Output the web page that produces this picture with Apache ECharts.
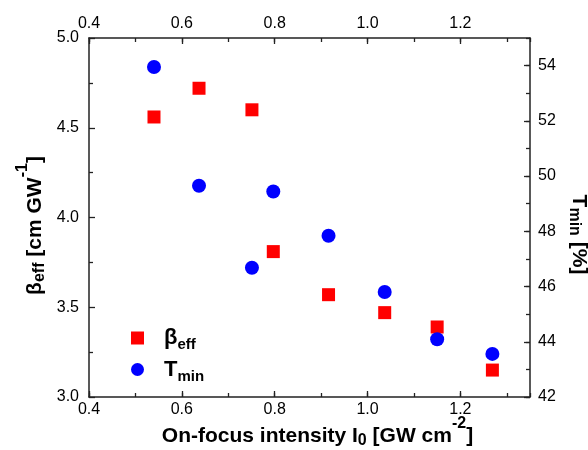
<!DOCTYPE html>
<html>
<head>
<meta charset="utf-8">
<script src="https://cdn.jsdelivr.net/npm/echarts@6/dist/echarts.min.js"></script>
<style>
  html, body { margin: 0; padding: 0; background: #fff; }
  #chart { width: 588px; height: 450px; }
</style>
</head>
<body>
<div id="chart"></div>
<script>
// on-focus intensity, GW cm^-2 (shared by both series)
var intensity = [0.540, 0.637, 0.751, 0.797, 0.916, 1.037, 1.150, 1.269];
// beta_eff, cm GW^-1 (left axis)
var betaEff = [4.56, 4.72, 4.60, 3.81, 3.57, 3.47, 3.39, 3.15];
// T_min, % (right axis)
var tMin = [53.95, 49.65, 46.68, 49.44, 47.84, 45.80, 44.09, 43.56];

var X_MIN = 0.4, X_MAX = 1.35, X_STEP = 0.2, X_MINOR = 0.1;
var B_MIN = 3.0, B_MAX = 5.0, B_STEP = 0.5;
var T_MIN = 42, T_MAX = 55, T_STEP = 2, T_MINOR = 1;

var FONT = "'Liberation Sans', Arial, sans-serif";
var AXIS_COLOR = '#222';

function pairs(xs, ys) {
  return xs.map(function(x, i) { return [x, ys[i]]; });
}

// rich styles for axis titles: b = body, s = subscript, p = superscript,
// a / e = body with extra lead / tail room to nudge the title off centre
function nameRich(lead, tail) {
  var body = { fontSize: 21, fontWeight: 'bold', color: '#000', fontFamily: FONT };
  return {
    b: body,
    a: Object.assign({}, body, { padding: [0, 0, 0, lead] }),
    e: Object.assign({}, body, { padding: [0, tail, 0, 0] }),
    s: { fontSize: 16, fontWeight: 'bold', color: '#000', fontFamily: FONT, padding: [10, 0, 0, 0] },
    p: { fontSize: 16, fontWeight: 'bold', color: '#000', fontFamily: FONT, padding: [0, 0, 24, 0] }
  };
}

// main axis (labelled ticks)
function mainAxis(extra) {
  var base = {
    type: 'value',
    splitLine: { show: false },
    axisLine: { show: true, onZero: false, lineStyle: { color: AXIS_COLOR, width: 1.5 } },
    axisTick: { show: true, inside: true, length: 6, lineStyle: { color: AXIS_COLOR, width: 1.3 } },
    axisLabel: { fontSize: 16, color: '#000', fontFamily: FONT, showMaxLabel: false },
    nameMoveOverlap: false
  };
  return Object.assign(base, extra);
}

// overlay axis that only draws the short minor ticks
function minorAxis(extra) {
  var base = {
    type: 'value',
    splitLine: { show: false },
    axisLine: { show: false },
    axisTick: { show: true, inside: true, length: 4, lineStyle: { color: AXIS_COLOR, width: 1.3 } },
    axisLabel: { show: false }
  };
  return Object.assign(base, extra);
}

var chart = echarts.init(document.getElementById('chart'));

chart.setOption({
  animation: false,
  backgroundColor: '#fff',
  grid: { left: 89, right: 58, top: 38, bottom: 53, outerBoundsMode: 'none', containLabel: false },
  legend: {
    orient: 'vertical',
    left: 126,
    top: 322,
    itemWidth: 13,
    itemHeight: 13,
    itemGap: 6,
    data: ['βeff', 'Tmin'],
    formatter: function(name) {
      return name === 'βeff' ? '{b|β}{s|eff}' : '{b|T}{s|min}';
    },
    textStyle: {
      rich: {
        b: { fontSize: 22, fontWeight: 'bold', color: '#000', fontFamily: FONT, padding: [0, 0, 0, 15] },
        s: { fontSize: 15, fontWeight: 'bold', color: '#000', fontFamily: FONT, padding: [14, 0, 0, 0] }
      }
    }
  },
  xAxis: [
    mainAxis({
      position: 'bottom', min: X_MIN, max: X_MAX, interval: X_STEP,
      axisLabel: { fontSize: 16, color: '#000', fontFamily: FONT, margin: 5, showMaxLabel: false,
        formatter: function(v) { return v.toFixed(1); } },
      name: '{a|On-focus intensity I}{s|0}{b| [GW cm}{p|-2}{b|]}',
      nameLocation: 'middle',
      nameGap: 19,
      nameTextStyle: { rich: nameRich(16, 0) }
    }),
    mainAxis({
      position: 'top', min: X_MIN, max: X_MAX, interval: X_STEP,
      axisLabel: { fontSize: 16, color: '#000', fontFamily: FONT, margin: 6, showMaxLabel: false,
        formatter: function(v) { return v.toFixed(1); } }
    }),
    minorAxis({ position: 'bottom', min: X_MIN, max: X_MAX, interval: X_MINOR }),
    minorAxis({ position: 'top', min: X_MIN, max: X_MAX, interval: X_MINOR })
  ],
  yAxis: [
    mainAxis({
      position: 'left', min: B_MIN, max: B_MAX, interval: B_STEP,
      minorTick: { show: true, splitNumber: 2, length: 4, lineStyle: { color: AXIS_COLOR, width: 1.3 } },
      axisLabel: { fontSize: 16, color: '#000', fontFamily: FONT, margin: 10,
        formatter: function(v) { return v.toFixed(1); } },
      name: '{b|β}{s|eff}{b| [cm GW}{p|-1}{e|]}',
      nameLocation: 'middle',
      nameRotate: 90,
      nameGap: 34,
      nameTextStyle: { rich: nameRich(0, 16) }
    }),
    mainAxis({
      position: 'right', min: T_MIN, max: T_MAX, interval: T_STEP,
      axisLabel: { fontSize: 16, color: '#000', fontFamily: FONT, margin: 8, showMaxLabel: false },
      name: '{a|T}{s|min}{b| [%]}',
      nameLocation: 'middle',
      nameRotate: -90,
      nameGap: 36,
      nameTextStyle: { rich: nameRich(34, 0) }
    }),
    minorAxis({ position: 'right', min: T_MIN, max: T_MAX, interval: T_MINOR })
  ],
  series: [
    {
      name: 'βeff',
      type: 'scatter',
      xAxisIndex: 0,
      yAxisIndex: 0,
      symbol: 'rect',
      symbolSize: 13,
      itemStyle: { color: '#ff0000', opacity: 1 },
      data: pairs(intensity, betaEff)
    },
    {
      name: 'Tmin',
      type: 'scatter',
      xAxisIndex: 0,
      yAxisIndex: 1,
      symbol: 'circle',
      symbolSize: 14,
      itemStyle: { color: '#0000ff', opacity: 1 },
      data: pairs(intensity, tMin)
    }
  ]
});
</script>
</body>
</html>
